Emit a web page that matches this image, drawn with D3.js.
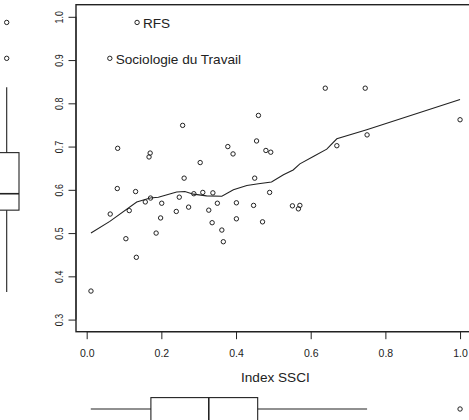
<!DOCTYPE html>
<html>
<head>
<meta charset="utf-8">
<script src="https://cdn.jsdelivr.net/npm/d3@7"></script>
<style>
  body { margin: 0; background: #fff; }
  svg { display: block; font-family: "Liberation Sans", Arial, sans-serif; }
</style>
</head>
<body>
<div class="vis-scatterplot"></div>
<script>
// journals: Index SSCI (x) vs second index (y)
var ssci = [0.135, 0.062, 0.083, 0.170, 0.167, 0.257, 0.378, 0.392, 0.460, 0.455,
            0.480, 0.493, 0.639, 0.746, 1.000, 0.751, 0.670, 0.304, 0.261, 0.450,
            0.082, 0.131, 0.490, 0.171, 0.248, 0.287, 0.311, 0.338, 0.157, 0.201,
            0.350, 0.401, 0.447, 0.273, 0.063, 0.114, 0.240, 0.327, 0.198, 0.401,
            0.336, 0.471, 0.362, 0.186, 0.105, 0.366, 0.133, 0.0115, 0.551, 0.571,
            0.567];
var score = [0.987, 0.904, 0.696, 0.685, 0.676, 0.749, 0.700, 0.683, 0.772, 0.713,
             0.691, 0.687, 0.835, 0.835, 0.762, 0.727, 0.702, 0.663, 0.627, 0.627,
             0.603, 0.596, 0.594, 0.581, 0.583, 0.591, 0.594, 0.593, 0.572, 0.569,
             0.569, 0.570, 0.564, 0.560, 0.544, 0.552, 0.550, 0.553, 0.535, 0.533,
             0.524, 0.526, 0.507, 0.500, 0.487, 0.480, 0.444, 0.366, 0.563, 0.564,
             0.556];

// labelled journals
var labelText = ["RFS", "Sociologie du Travail"];
var labelX = [0.135, 0.062];
var labelY = [0.987, 0.904];

// lowess smoother
var smoothX = [0.0115, 0.062, 0.134, 0.170, 0.192, 0.241, 0.263, 0.286, 0.321, 0.362,
               0.393, 0.429, 0.460, 0.495, 0.527, 0.553, 0.571, 0.607, 0.643, 0.670,
               0.750, 1.000];
var smoothY = [0.500, 0.527, 0.572, 0.581, 0.583, 0.595, 0.596, 0.590, 0.586, 0.585,
               0.600, 0.610, 0.614, 0.618, 0.635, 0.646, 0.660, 0.677, 0.694, 0.718,
               0.739, 0.809];

// boxplot stats: min whisker, Q1, median, Q3, max whisker
var ssciBox = [0.011, 0.172, 0.327, 0.458, 0.751];
var ssciOut = [1.0];
var scoreBox = [0.364, 0.553, 0.591, 0.686, 0.837];
var scoreOut = [0.904, 0.987];

var xTicks = [0, 0.2, 0.4, 0.6, 0.8, 1.0];
var yTicks = [0.3, 0.4, 0.5, 0.6, 0.7, 0.8, 0.9, 1.0];

var width = 469, height = 420;
var ink = "#222";

var svg = d3.select(".vis-scatterplot")
  .append("svg")
    .attr("width", width)
    .attr("height", height);

var x = d3.scaleLinear()
  .domain([-0.0286, 1.0395])
  .range([76, 474.8]);

var y = d3.scaleLinear()
  .domain([0.272, 1.028])
  .range([331.7, 4.7]);

// plot frame
svg.append("rect")
  .attr("x", x.range()[0])
  .attr("y", y.range()[1])
  .attr("width", x.range()[1] - x.range()[0])
  .attr("height", y.range()[0] - y.range()[1])
  .attr("fill", "none")
  .attr("stroke", ink)
  .attr("stroke-width", 1.4);

// x axis
var xAxis = svg.append("g")
  .attr("transform", "translate(0," + y.range()[0] + ")")
  .call(d3.axisBottom(x).tickValues(xTicks).tickSize(7.5).tickPadding(14)
        .tickFormat(d3.format(".1f")));
xAxis.select(".domain")
  .attr("d", "M" + x(0) + ",0H" + x(1));
xAxis.selectAll("line").attr("stroke", ink);
xAxis.selectAll("path").attr("stroke", ink);
xAxis.selectAll("text")
  .attr("fill", ink)
  .attr("dy", 0)
  .attr("y", 25.6)
  .style("font-size", "10.5px")
  .style("font-family", "'Liberation Sans', Arial, sans-serif");

// y axis
var yAxis = svg.append("g")
  .attr("transform", "translate(" + x.range()[0] + ",0)")
  .call(d3.axisLeft(y).tickValues(yTicks).tickSize(7.5).tickFormat(d3.format(".1f")));
yAxis.select(".domain")
  .attr("d", "M0," + y(0.3) + "V" + y(1.0));
yAxis.selectAll("line").attr("stroke", ink);
yAxis.selectAll("path").attr("stroke", ink);
yAxis.selectAll("text").remove();
yAxis.selectAll(".tick")
  .append("text")
    .attr("transform", "translate(-12.7,0) rotate(-90)")
    .attr("text-anchor", "middle")
    .attr("fill", ink)
    .attr("textLength", 12.3)
    .attr("lengthAdjust", "spacingAndGlyphs")
    .style("font-size", "11.5px")
    .style("font-family", "'Liberation Sans', Arial, sans-serif")
    .text(function(d) { return d3.format(".1f")(d); });

// axis title
svg.append("text")
  .attr("x", (x.range()[0] + x.range()[1]) / 2)
  .attr("y", 381.7)
  .attr("text-anchor", "middle")
  .attr("fill", ink)
  .style("font-size", "13.6px")
  .text("Index SSCI");

// lowess line
var line = d3.line()
  .x(function(d) { return x(d[0]); })
  .y(function(d) { return y(d[1]); });

svg.append("path")
  .datum(d3.zip(smoothX, smoothY))
  .attr("d", line)
  .attr("fill", "none")
  .attr("stroke", ink)
  .attr("stroke-width", 1.1);

// points
svg.append("g")
  .selectAll("circle")
  .data(d3.zip(ssci, score))
  .enter()
  .append("circle")
    .attr("cx", function(d) { return x(d[0]); })
    .attr("cy", function(d) { return y(d[1]); })
    .attr("r", 2.2)
    .attr("fill", "none")
    .attr("stroke", ink)
    .attr("stroke-width", 1);

// labels
svg.append("g")
  .selectAll("text")
  .data(d3.zip(labelText, labelX, labelY))
  .enter()
  .append("text")
    .attr("x", function(d) { return x(d[1]) + 5.8; })
    .attr("y", function(d) { return y(d[2]) + 5.3; })
    .attr("fill", ink)
    .style("font-size", "13.6px")
    .text(function(d) { return d[0]; });

// bottom boxplot (Index SSCI)
var bx = svg.append("g").attr("fill", "none").attr("stroke", ink).attr("stroke-width", 1.1);
var bTop = 397.6, bBot = 420.6, bMid = 409;
bx.append("line")
  .attr("x1", x(ssciBox[0])).attr("x2", x(ssciBox[1]))
  .attr("y1", bMid).attr("y2", bMid);
bx.append("line")
  .attr("x1", x(ssciBox[3])).attr("x2", x(ssciBox[4]))
  .attr("y1", bMid).attr("y2", bMid);
bx.append("rect")
  .attr("x", x(ssciBox[1])).attr("y", bTop)
  .attr("width", x(ssciBox[3]) - x(ssciBox[1]))
  .attr("height", bBot - bTop);
bx.append("line")
  .attr("x1", x(ssciBox[2])).attr("x2", x(ssciBox[2]))
  .attr("y1", bTop).attr("y2", bBot)
  .attr("stroke-width", 1.6);
bx.selectAll("circle")
  .data(ssciOut)
  .enter()
  .append("circle")
    .attr("cx", function(d) { return x(d); })
    .attr("cy", bMid)
    .attr("r", 2.2)
    .attr("stroke-width", 1);

// left boxplot (score)
var by = svg.append("g").attr("fill", "none").attr("stroke", ink).attr("stroke-width", 1.1);
var lLeft = -5.6, lRight = 19, lMid = 6.7;
by.append("line")
  .attr("x1", lMid).attr("x2", lMid)
  .attr("y1", y(scoreBox[0])).attr("y2", y(scoreBox[1]));
by.append("line")
  .attr("x1", lMid).attr("x2", lMid)
  .attr("y1", y(scoreBox[3])).attr("y2", y(scoreBox[4]));
by.append("rect")
  .attr("x", lLeft).attr("y", y(scoreBox[3]))
  .attr("width", lRight - lLeft)
  .attr("height", y(scoreBox[1]) - y(scoreBox[3]));
by.append("line")
  .attr("x1", lLeft).attr("x2", lRight)
  .attr("y1", y(scoreBox[2])).attr("y2", y(scoreBox[2]))
  .attr("stroke-width", 1.6);
by.selectAll("circle")
  .data(scoreOut)
  .enter()
  .append("circle")
    .attr("cx", lMid)
    .attr("cy", function(d) { return y(d); })
    .attr("r", 2.2)
    .attr("stroke-width", 1);
</script>
</body>
</html>
